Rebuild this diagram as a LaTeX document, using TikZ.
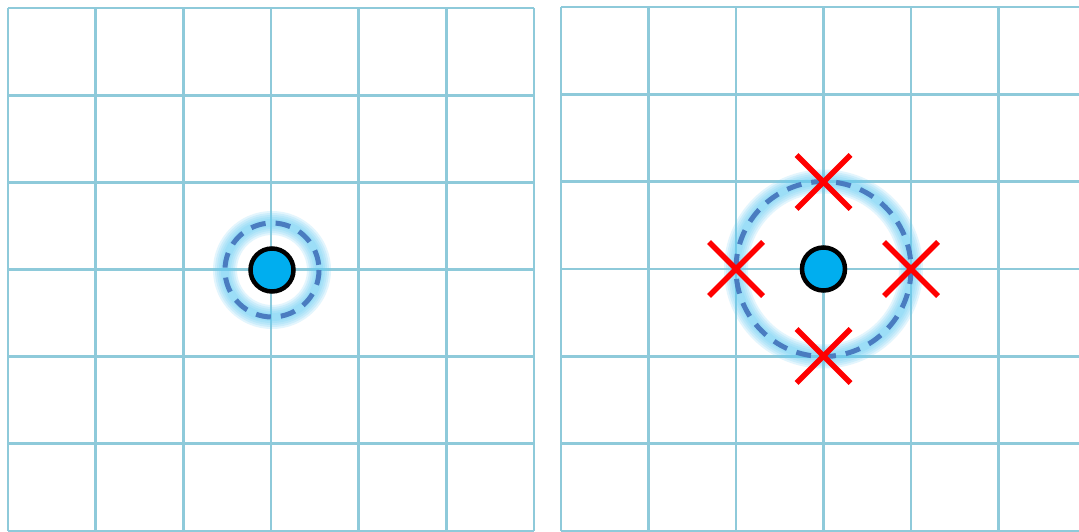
\documentclass[tikz,border=0pt]{standalone}
\usepackage{tikz}
\usetikzlibrary{calc}

\definecolor{gridblue}{RGB}{142,202,218}
\definecolor{ringblue}{RGB}{74,124,192}
\definecolor{dotblue}{RGB}{0,174,239}
\definecolor{glowblue}{RGB}{100,205,245}

\begin{document}
\begin{tikzpicture}[x=1pt, y=-1pt,
    gridline/.style={draw=gridblue, line width=2.8pt},
    dot/.style={circle, draw=black, line width=4.5pt, fill=dotblue, minimum size=43pt, inner sep=0pt},
    ring/.style={draw=ringblue, line width=5pt, dash pattern=on 15pt off 10pt},
    glow/.style={draw=glowblue, line width=#1, opacity=0.18},
    cross/.style={draw=red, line width=5.5pt}
]
    \useasboundingbox[fill=white] (0,0) rectangle (1079,532);

    % Left grid
    \foreach \i in {0,...,6} {
        \draw[gridline] ({8+\i*87.67},8) -- ({8+\i*87.67},531);
        \draw[gridline] (8,{8+\i*87.17}) -- (534,{8+\i*87.17});
    }

    % Right grid (cut at the right edge)
    \begin{scope}
        \clip (0,0) rectangle (1079,532);
        \foreach \i in {0,...,6} {
            \draw[gridline] ({561+\i*87.5},7) -- ({561+\i*87.5},531);
            \draw[gridline] (561,{7+\i*87.33}) -- (1090,{7+\i*87.33});
        }
    \end{scope}

    % Left: small ring
    \coordinate (lc) at (272,270);
    \foreach \w in {24pt,20pt,16pt,12pt,8pt} {
        \draw[glow=\w] (lc) circle[radius=47];
    }
    \draw[ring] (lc) circle[radius=47];
    \node[dot] (ldot) at (lc) {};

    % Right: wide ring with four crosses
    \coordinate (rc) at (823.5,269);
    \foreach \w in {24pt,20pt,16pt,12pt,8pt} {
        \draw[glow=\w] (rc) circle[radius=87.5];
    }
    \draw[ring] (rc) circle[radius=87.5];
    \node[dot] (rdot) at (rc) {};

    \foreach \cx/\cy/\name in {823.5/182/xt, 911/269/xr, 823.5/356/xb, 736/269/xl} {
        \coordinate (\name) at (\cx,\cy);
        \draw[cross] ($(\name)+(-27,-27)$) -- ($(\name)+(27,27)$);
        \draw[cross] ($(\name)+(-27,27)$) -- ($(\name)+(27,-27)$);
    }
\end{tikzpicture}
\end{document}
